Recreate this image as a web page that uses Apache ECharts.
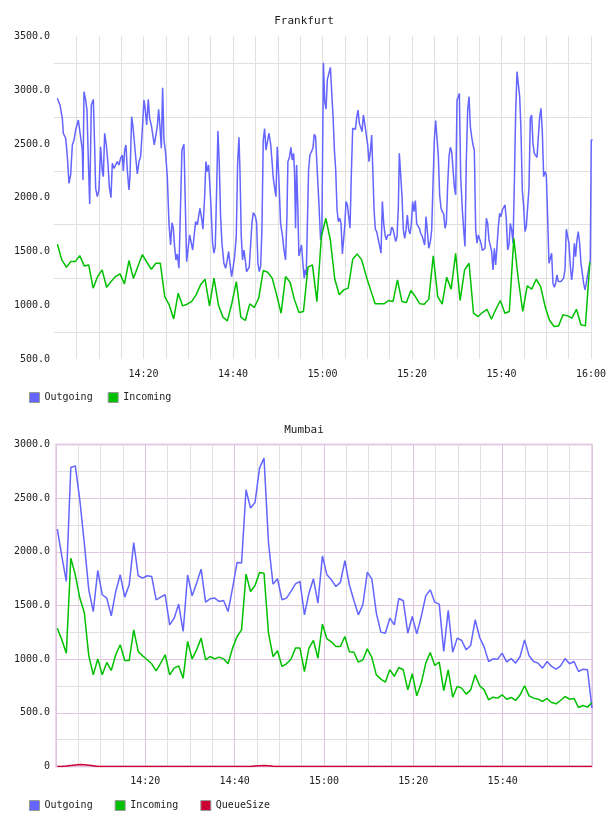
<!DOCTYPE html>
<html>
<head>
<meta charset="utf-8">
<script src="https://cdn.jsdelivr.net/npm/echarts@6/dist/echarts.min.js"></script>
<style>
html,body{margin:0;padding:0;background:#fff;}
#chart{width:608px;height:816px;}
</style>
</head>
<body>
<div id="chart"></div>
<script>
// ---------------- DATA ----------------
// Times are minutes after 14:00.
const titles = ['Frankfurt', 'Mumbai'];
const fraLegend = ['Outgoing', 'Incoming'];
const mumLegend = ['Outgoing', 'Incoming', 'QueueSize'];

const fraOutTimes = [
0.74,1.34,1.86,2.08,2.61,2.98,3.35,3.72,4.10,4.47,
4.84,5.21,5.44,5.81,6.33,6.48,6.70,7.07,7.37,7.67,
7.97,8.34,8.79,9.08,9.31,9.68,10.05,10.42,10.80,11.02,
11.32,11.69,12.06,12.36,12.73,13.03,13.40,13.78,14.15,14.52,
14.89,15.26,15.49,15.79,16.08,16.38,16.75,16.98,17.35,17.65,
18.02,18.32,18.62,18.99,19.36,19.73,20.10,20.33,20.70,21.07,
21.37,21.74,22.11,22.41,22.79,23.08,23.38,23.68,23.98,24.27,
24.57,24.94,25.32,25.69,26.06,26.36,26.66,26.95,27.25,27.55,
27.92,28.29,28.59,29.04,29.34,29.64,29.93,30.31,30.68,30.98,
31.27,31.65,32.02,32.39,32.61,32.99,33.28,33.66,33.95,34.25,
34.55,34.85,35.15,35.44,35.74,36.04,36.34,36.63,36.93,37.23,
37.53,37.97,38.35,38.72,39.02,39.32,39.69,39.99,40.36,40.73,
41.03,41.33,41.55,41.85,42.14,42.44,42.74,43.04,43.34,43.63,
43.93,44.23,44.53,44.97,45.27,45.57,45.87,46.17,46.46,46.76,
47.06,47.36,47.66,48.03,48.40,48.70,49.00,49.29,49.59,49.89,
50.26,50.63,51.08,51.38,51.75,52.05,52.27,52.64,52.94,53.24,
53.54,53.76,53.98,54.21,54.50,54.73,55.10,55.32,55.62,55.92,
56.14,56.37,56.59,56.89,57.19,57.56,57.86,58.15,58.45,58.82,
59.20,59.57,59.87,
60.20,60.50,60.79,61.09,61.39,61.76,61.98,62.36,62.66,62.95,
63.25,63.55,63.85,64.14,64.44,64.74,64.96,65.26,65.56,65.86,
66.15,66.45,66.75,67.05,67.35,67.64,67.94,68.24,68.54,68.84,
69.13,69.43,69.73,70.10,70.40,70.70,70.99,71.29,71.52,71.81,
72.11,72.41,72.71,73.08,73.38,73.68,73.97,74.27,74.57,74.87,
75.16,75.46,75.76,76.06,76.36,76.65,76.95,77.17,77.47,77.77,
78.07,78.37,78.66,78.96,79.26,79.56,79.86,80.15,80.45,80.75,
81.05,81.34,81.64,81.94,82.24,82.54,82.83,83.13,83.43,83.73,
84.10,84.40,84.70,84.99,85.29,85.59,85.89,86.18,86.48,86.78,
87.08,87.38,87.67,87.97,88.27,88.57,88.87,89.16,89.46,89.76,
90.06,90.35,90.58,90.88,91.25,91.55,91.84,92.14,92.44,92.74,
93.04,93.33,93.63,93.93,94.23,94.52,94.82,95.12,95.42,95.72,
96.01,96.31,96.61,96.91,97.20,97.50,97.80,98.10,98.40,98.69,
98.99,99.29,99.59,99.89,100.18,100.48,100.78,101.08,101.37,101.67,
101.97,102.27,102.57,102.86,103.16,103.46,103.76,104.06,104.35,104.65,
104.95,105.25,105.54,105.84,106.14,106.44,106.74,107.03,107.33,107.63,
107.93,108.23,108.52,108.82,109.12,109.42,109.71,110.01,110.31,110.61,
110.91,111.20,111.50,111.80,112.10,112.39,112.69,112.99,113.29,113.59,
113.88,114.18,114.48,114.78,115.07,115.37,115.67,115.97,116.27,116.56,
116.86,117.16,117.46,117.76,118.05,118.35,118.65,118.95,119.24,119.54,
119.84,120.06,120.36
];
const fraOutValues = [
2925,2863,2739,2600,2553,2382,2134,2212,2491,2537,
2630,2636,2723,2708,2444,2165,2987,2910,2816,2351,
1942,2863,2915,2475,2088,2010,2072,2475,2243,2196,
2600,2491,2320,2103,2001,2320,2274,2265,2336,2305,
2367,2398,2249,2444,2491,2258,2072,2196,2754,2661,
2670,2351,2221,2336,2382,2630,2909,2847,2677,2915,
2739,2677,2661,2491,2491,2661,2822,2661,2460,3024,
2537,2413,2196,1762,1561,1768,1716,1545,1421,1477,
1344,1344,2444,2497,1948,1405,1514,1654,1577,1514,
1514,1778,1747,1731,1902,1809,1707,2010,2336,2243,
2305,2103,1855,1577,1484,1545,2072,2621,2320,1824,
1577,1390,1344,1421,1499,1390,1267,1344,1452,1638,
2320,2562,2258,1638,1421,1514,1421,1313,1313,1354,
1360,1762,1862,1831,1768,1390,1313,1360,1700,2537,
2643,2444,2429,2600,2506,2351,2181,2196,2010,2475,
2165,1762,1638,1514,1421,1824,2336,2382,2469,2351,
2413,2227,1716,2305,1886,1459,1452,1561,1390,1250,
1329,1282,1700,2258,2398,2413,2460,2590,2568,2258,
1948,1607,1700,
3256,2894,2825,3101,3111,3213,3219,2754,2444,2258,
1886,1778,1809,1762,1477,1477,1731,1964,1933,1918,
1716,2227,2646,2661,2636,2748,2816,2692,2677,2615,
2770,2692,2677,2491,2336,2429,2584,2196,1886,1707,
1685,1685,1561,1484,1964,1762,1654,1608,1654,1670,
1654,1726,1707,1701,1592,1638,1917,2413,2407,2010,
1701,1623,1701,1840,1701,1663,1762,1964,1871,1973,
1756,1762,1716,1670,1645,1638,1561,1824,1694,1530,
1592,1701,2134,2537,2717,2717,2382,2026,1902,1871,
1850,1716,1762,2119,2382,2469,2429,2438,2103,2026,
2909,2940,2971,2196,1886,1701,1546,2351,2816,2940,
2661,2568,2491,2444,1701,1577,1654,1670,1577,1509,
1499,1530,1809,1762,1608,1592,1499,1329,1530,1375,
1546,1731,1855,1824,1886,1871,1933,1794,1515,1561,
1762,1701,1577,2103,2785,3173,3188,2940,2630,2072,
1917,1685,1731,1731,2088,2739,2770,2506,2413,2398,
2376,2367,2748,2832,2615,2196,2243,2212,1824,1390,
1390,1484,1205,1168,1205,1282,1220,1236,1220,1236,
1250,1329,1707,1707,1577,1375,1236,1344,1577,1452,
1608,1685,1577,1390,1298,1205,1143,1205,1282,1344,
1422,2537,2537
];

// Frankfurt incoming: one sample per minute starting 14:00:45
const fraInStart = 0.75;
const fraInStep = 1.0;
const fraInValues = [
1568,1422,1354,1406,1406,1462,1366,1375,1159,1267,
1329,1168,1220,1267,1292,1199,1416,1249,1360,1472,
1400,1335,1391,1391,1081,1003,873,1112,994,1010,
1034,1097,1190,1242,994,1252,1003,889,855,1019,
1220,889,858,1013,979,1066,1323,1307,1252,1097,
926,1267,1214,1050,932,942,1354,1375,1034,1640,
1809,1607,1242,1097,1143,1159,1428,1478,1422,1273,
1143,1013,1013,1013,1044,1034,1236,1034,1025,1137,
1081,1013,1010,1057,1459,1081,1010,1261,1150,1484,
1044,1329,1391,926,895,932,963,870,963,1044,
926,942,1623,1242,942,1180,1150,1242,1174,988,
858,802,808,911,901,880,963,818,808,1400
];

// Mumbai: one sample per ~minute from 14:00:18 to 16:00
const mumStart = 0.3;
const mumStep = 1.00588;
const mumOutValues = [
2211,1957,1724,2786,2801,2485,2081,1646,1444,1826,
1600,1569,1404,1631,1786,1578,1693,2087,1777,1755,
1777,1771,1553,1578,1600,1320,1382,1513,1258,1786,
1590,1708,1839,1531,1562,1569,1538,1547,1444,1662,
1901,1895,2578,2407,2460,2780,2873,2081,1699,1749,
1553,1569,1631,1702,1724,1413,1615,1749,1522,1963,
1786,1739,1677,1715,1919,1693,1547,1413,1507,1811,
1746,1429,1252,1242,1382,1320,1565,1544,1242,1398,
1236,1398,1590,1646,1531,1513,1072,1454,1065,1196,
1174,1087,1128,1367,1202,1112,978,1003,1000,1056,
975,1006,963,1025,1180,1031,978,963,916,978,
932,907,938,1006,957,978,885,907,901,544
];
const mumInValues = [
1289,1180,1056,1941,1786,1569,1435,1031,854,1003,
854,969,895,1041,1134,988,988,1273,1072,1031,
994,957,891,963,1041,854,916,938,823,1165,
1003,1087,1196,994,1025,1003,1019,1003,957,1103,
1211,1273,1792,1631,1687,1808,1801,1242,1025,1078,
932,957,1000,1103,1103,885,1103,1174,1009,1326,
1190,1162,1118,1118,1211,1068,1065,972,994,1096,
1016,854,814,786,901,839,922,901,714,864,
658,777,963,1062,941,972,708,901,646,745,
730,674,714,854,752,714,621,646,637,668,
627,643,615,668,752,658,637,627,606,634,
596,584,615,652,627,634,550,568,553,596
];
const mumQueueValues = [
0,0,4,10,15,18,16,12,6,0,
0,0,0,0,0,0,0,0,0,0,
0,0,0,0,0,0,0,0,0,0,
0,0,0,0,0,0,0,0,0,0,
0,0,0,0,4,8,9,6,2,0,
0,0,0,0,0,0,0,0,0,0,
0,0,0,0,0,0,0,0,0,0,
0,0,0,0,0,0,0,0,0,0,
0,0,0,0,0,0,0,0,0,0,
0,0,0,0,0,0,0,0,0,0,
0,0,0,0,0,0,0,0,0,0,
0,0,0,0,0,0,0,0,0,0
];

// ---------------- CHART ----------------
const FONT = '"DejaVu Sans Mono", monospace';
const TXT = '#222';
const BLUE = '#6464ff', GREEN = '#00c000', RED = '#cc0033';
const GRAY = '#e0e0e0', PINK = '#dfc4df';

function hhmm(v) {
  const tot = Math.round(v);
  const h = 14 + Math.floor(tot / 60);
  const m = tot % 60;
  return h + ':' + String(m).padStart(2, '0');
}
const pairs = (ts, vs) => vs.map((v, i) => [ts[i], v]);
const uniform = (start, step, vs) => vs.map((v, i) => [start + i * step, v]);

const labelBase = { fontFamily: FONT, fontSize: 10, color: TXT };

const chart = echarts.init(document.getElementById('chart'), null, { renderer: 'canvas' });
chart.setOption({
  animation: false,
  backgroundColor: '#fff',
  textStyle: { fontFamily: FONT },
  title: [
    { text: titles[0], left: 'center', top: 11, textStyle: { fontFamily: FONT, fontSize: 11, fontWeight: 'normal', color: TXT } },
    { text: titles[1], left: 'center', top: 420, textStyle: { fontFamily: FONT, fontSize: 11, fontWeight: 'normal', color: TXT } }
  ],
  legend: [
    { data: fraLegend, left: 24, top: 387, itemWidth: 10, itemHeight: 10, itemGap: 15, icon: 'rect',
      itemStyle: { borderColor: '#999', borderWidth: 1 }, textStyle: labelBase, selectedMode: false },
    { data: mumLegend, left: 24, top: 795, itemWidth: 10, itemHeight: 10, itemGap: 22, icon: 'rect',
      itemStyle: { borderColor: '#999', borderWidth: 1 }, textStyle: labelBase, selectedMode: false }
  ],
  grid: [
    { left: 54, top: 36.5, width: 537, height: 322.5, containLabel: false, outerBoundsMode: 'none' },
    { left: 56, top: 444.5, width: 536, height: 322, containLabel: false, outerBoundsMode: 'none',
      show: true, borderColor: '#ecd6ec', borderWidth: 2, backgroundColor: 'transparent' }
  ],
  xAxis: [
    { gridIndex: 0, type: 'value', min: 0, max: 120, interval: 20,
      axisLine: { show: false }, axisTick: { show: false },
      axisLabel: Object.assign({ margin: 10, formatter: v => (v <= 0 ? '' : hhmm(v)) }, labelBase),
      splitLine: { show: true, showMinLine: false, lineStyle: { color: GRAY, width: 1 } },
      minorTick: { show: false, splitNumber: 4 },
      minorSplitLine: { show: true, lineStyle: { color: GRAY, width: 1 } } },
    { gridIndex: 1, type: 'value', min: 0, max: 120, interval: 20,
      axisLine: { show: false }, axisTick: { show: false },
      axisLabel: Object.assign({ margin: 10, formatter: v => (v <= 0 || v >= 120 ? '' : hhmm(v)) }, labelBase),
      splitLine: { show: true, lineStyle: { color: PINK, width: 1 } },
      minorTick: { show: false, splitNumber: 4 },
      minorSplitLine: { show: true, lineStyle: { color: GRAY, width: 1 } } }
  ],
  yAxis: [
    { gridIndex: 0, type: 'value', min: 500, max: 3500, interval: 500,
      axisLine: { show: false }, axisTick: { show: false },
      axisLabel: Object.assign({ margin: 4, formatter: v => v.toFixed(1) }, labelBase),
      splitLine: { show: false },
      minorTick: { show: false, splitNumber: 2 },
      minorSplitLine: { show: true, lineStyle: { color: GRAY, width: 1 } } },
    { gridIndex: 1, type: 'value', min: 0, max: 3000, interval: 500,
      axisLine: { show: false }, axisTick: { show: false },
      axisLabel: Object.assign({ margin: 6, formatter: v => (v === 0 ? '0' : v.toFixed(1)) }, labelBase),
      splitLine: { show: true, lineStyle: { color: PINK, width: 1 } },
      minorTick: { show: false, splitNumber: 2 },
      minorSplitLine: { show: true, lineStyle: { color: GRAY, width: 1 } } }
  ],
  series: [
    { name: 'Outgoing', type: 'line', xAxisIndex: 0, yAxisIndex: 0, showSymbol: false, symbol: 'none',
      color: BLUE, lineStyle: { color: BLUE, width: 1.5 }, data: pairs(fraOutTimes, fraOutValues) },
    { name: 'Incoming', type: 'line', xAxisIndex: 0, yAxisIndex: 0, showSymbol: false, symbol: 'none',
      color: GREEN, lineStyle: { color: GREEN, width: 1.5 }, data: uniform(fraInStart, fraInStep, fraInValues) },
    { name: 'Outgoing', type: 'line', xAxisIndex: 1, yAxisIndex: 1, showSymbol: false, symbol: 'none',
      color: BLUE, lineStyle: { color: BLUE, width: 1.5 }, data: uniform(mumStart, mumStep, mumOutValues) },
    { name: 'Incoming', type: 'line', xAxisIndex: 1, yAxisIndex: 1, showSymbol: false, symbol: 'none',
      color: GREEN, lineStyle: { color: GREEN, width: 1.5 }, data: uniform(mumStart, mumStep, mumInValues) },
    { name: 'QueueSize', type: 'line', xAxisIndex: 1, yAxisIndex: 1, showSymbol: false, symbol: 'none',
      color: RED, lineStyle: { color: RED, width: 1.5 }, data: uniform(mumStart, mumStep, mumQueueValues) }
  ]
});
</script>
</body>
</html>
